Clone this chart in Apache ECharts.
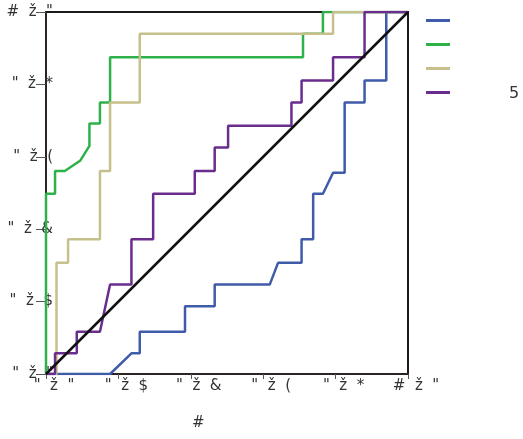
<!DOCTYPE html>
<html>
<head>
<meta charset="UTF-8">
<title>ROC</title>
<script src="https://cdn.jsdelivr.net/npm/echarts@6/dist/echarts.min.js"></script>
<style>
  html, body { margin: 0; padding: 0; background: #fff; }
  #main { width: 523px; height: 439px; }
</style>
</head>
<body>
<div id="main"></div>
<script type="text/javascript">
// tick labels as they appear in the picture (garbled font)
var tickLabels = ['"  ž  "', '"  ž  $', '"  ž  &', '"  ž  (', '"  ž  *', '#  ž  "'];
var seriesNames = ['A', 'B', 'C', 'D'];
var seriesColors = ['#3f5ba9', '#2fb14a', '#c8c08c', '#6a2d8e'];

// [1 - specificity, sensitivity]
var blueCurve = [[0, 0], [0.177, 0], [0.236, 0.057], [0.259, 0.057], [0.259, 0.117], [0.384, 0.117],
  [0.384, 0.187], [0.466, 0.187], [0.466, 0.247], [0.618, 0.247], [0.641, 0.307], [0.706, 0.307],
  [0.706, 0.372], [0.738, 0.372], [0.738, 0.498], [0.765, 0.498], [0.793, 0.556], [0.825, 0.556],
  [0.825, 0.750], [0.880, 0.750], [0.880, 0.811], [0.940, 0.811], [0.940, 1], [1, 1]];
var greenCurve = [[0, 0], [0, 0.498], [0.025, 0.498], [0.025, 0.561], [0.052, 0.561], [0.095, 0.59],
  [0.12, 0.63], [0.12, 0.692], [0.149, 0.692], [0.149, 0.75], [0.177, 0.75], [0.177, 0.875],
  [0.710, 0.875], [0.710, 0.94], [0.765, 0.94], [0.765, 1], [1, 1]];
var khakiCurve = [[0, 0], [0.029, 0], [0.029, 0.307], [0.061, 0.307], [0.061, 0.372], [0.149, 0.372],
  [0.149, 0.561], [0.177, 0.561], [0.177, 0.75], [0.259, 0.75], [0.259, 0.94], [0.793, 0.94],
  [0.793, 1], [1, 1]];
var purpleCurve = [[0, 0], [0.025, 0], [0.025, 0.057], [0.085, 0.057], [0.085, 0.117], [0.149, 0.117],
  [0.177, 0.247], [0.236, 0.247], [0.236, 0.372], [0.296, 0.372], [0.296, 0.498], [0.411, 0.498],
  [0.411, 0.561], [0.466, 0.561], [0.466, 0.626], [0.503, 0.626], [0.503, 0.686], [0.678, 0.686],
  [0.678, 0.750], [0.706, 0.750], [0.706, 0.811], [0.793, 0.811], [0.793, 0.875], [0.880, 0.875],
  [0.880, 1], [1, 1]];
var refLine = [[0, 0], [1, 1]];

var curves = [blueCurve, greenCurve, khakiCurve, purpleCurve];

var myChart = echarts.init(document.getElementById('main'));

var series = curves.map(function (d, i) {
  return {
    name: seriesNames[i],
    type: 'line',
    data: d,
    symbol: 'none',
    lineStyle: { color: seriesColors[i], width: 2.5 },
    itemStyle: { color: seriesColors[i] },
    z: 3
  };
});
series.push({
  name: 'ref',
  type: 'line',
  data: refLine,
  symbol: 'none',
  lineStyle: { color: '#111', width: 2.5 },
  z: 4
});

function labelFor(v) {
  return tickLabels[Math.round(v / 0.2)];
}

myChart.setOption({
  animation: false,
  backgroundColor: '#fff',
  textStyle: { fontFamily: 'DejaVu Sans' },
  grid: {
    left: 46, top: 12, width: 362, height: 362,
    show: true, borderColor: '#1e1a1a', borderWidth: 2
  },
  legend: {
    data: seriesNames,
    orient: 'vertical',
    left: 421, top: 14,
    icon: 'rect',
    itemWidth: 24, itemHeight: 3,
    itemGap: 21,
    formatter: function () { return ''; },
    textStyle: { fontSize: 8 }
  },
  xAxis: {
    type: 'value', min: 0, max: 1, interval: 0.2,
    axisLine: { lineStyle: { color: '#2b2222', width: 2 } },
    axisTick: { show: true, length: 5, lineStyle: { color: '#555' } },
    axisLabel: { formatter: labelFor, color: '#333', fontSize: 15, margin: 5, padding: [0, 0, 0, 16] },
    splitLine: { show: false }
  },
  yAxis: {
    type: 'value', min: 0, max: 1, interval: 0.2,
    axisLine: { lineStyle: { color: '#2b2222', width: 2 } },
    axisTick: { show: true, length: 10, lineStyle: { color: '#555' } },
    axisLabel: { formatter: labelFor, color: '#333', fontSize: 15, margin: -7 },
    splitLine: { show: false }
  },
  graphic: [
    { type: 'text', left: 192, top: 416, style: { text: '#', fill: '#333', font: '15px DejaVu Sans' } },
    { type: 'text', left: 509, top: 86, style: { text: '5', fill: '#333', font: '16px DejaVu Sans' } }
  ],
  series: series
});
</script>
</body>
</html>
